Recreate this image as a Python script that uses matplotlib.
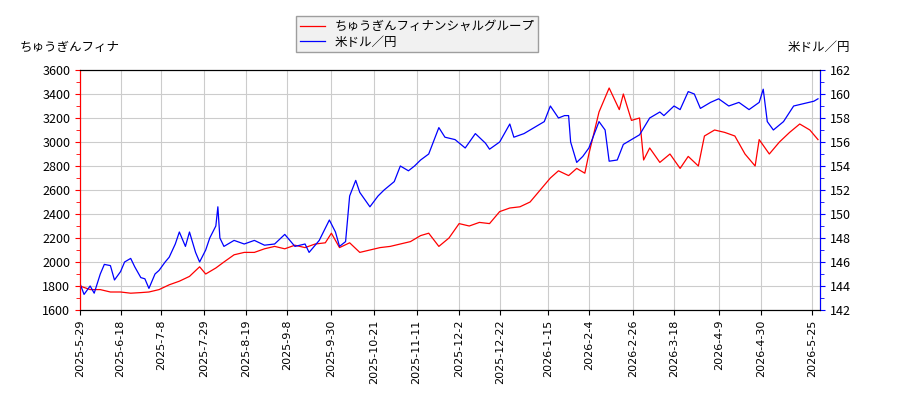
import matplotlib
matplotlib.use("Agg")
import matplotlib.pyplot as plt
import pandas as pd

plt.rcParams['font.family'] = ['Noto Sans CJK JP', 'DejaVu Sans']

start = pd.Timestamp('2025-05-29')
red_days = [0,5,10,15,20,25,30,34,39,44,49,54,59,62,67,71,76,81,86,91,96,101,106,111,116,121,124,128,133,138,
            143,148,153,158,163,168,172,177,182,187,192,197,202,207,212,217,222,227,232,236,241,245,249,251,256,261,266,268,272,276,
            278,281,286,291,296,300,305,308,313,318,323,328,333,335,340,345,350,355,360,364]
red_vals = [1800,1770,1770,1750,1750,1740,1745,1750,1770,1810,1840,1880,1960,1900,1950,2000,2060,2080,2080,2110,
            2130,2110,2140,2120,2150,2160,2240,2120,2160,2080,2100,2120,2130,2150,2170,2220,2240,2130,2200,2320,
            2300,2330,2320,2420,2450,2460,2500,2600,2700,2760,2720,2780,2740,2900,3250,3450,3270,3400,3180,3200,
            2850,2950,2830,2900,2780,2880,2800,3050,3100,3080,3050,2900,2800,3020,2900,3000,3080,3150,3100,3020]
blue_days = [0,2,5,7,10,12,15,17,20,22,25,27,30,32,34,37,39,42,44,47,49,52,54,57,59,62,64,67,68,69,
             71,76,81,86,91,96,101,106,111,113,118,123,126,128,131,133,136,138,143,147,150,155,158,162,165,168,172,177,180,185,
             190,195,200,202,207,212,214,219,224,229,232,236,239,241,242,245,248,251,256,259,261,265,268,273,276,281,286,288,293,296,
             300,303,306,311,315,320,325,330,335,337,339,342,347,352,357,362,364]
blue_vals = [144.2,143.3,144.0,143.4,145.0,145.8,145.7,144.5,145.2,146.0,146.3,145.6,144.7,144.6,143.8,145.0,145.3,146.0,146.4,147.5,
             148.5,147.3,148.5,146.8,146.0,147.0,148.0,149.0,150.6,148.0,147.3,147.8,147.5,147.8,147.4,147.5,148.3,147.3,147.5,146.8,
             147.8,149.5,148.5,147.3,147.7,151.5,152.8,151.8,150.6,151.5,152.0,152.7,154.0,153.6,154.0,154.5,155.0,157.2,156.4,156.2,
             155.5,156.7,155.9,155.4,156.0,157.5,156.4,156.7,157.2,157.7,159.0,158.0,158.2,158.2,156.0,154.3,154.8,155.5,157.7,157.0,
             154.4,154.5,155.8,156.3,156.6,158.0,158.5,158.2,159.0,158.7,160.2,160.0,158.8,159.3,159.6,159.0,159.3,158.7,159.3,160.4,
             157.7,157.0,157.7,159.0,159.2,159.4,159.6]
tick_dates = ['2025-05-29','2025-06-18','2025-07-08','2025-07-29','2025-08-19','2025-09-08','2025-09-30','2025-10-21',
              '2025-11-11','2025-12-02','2025-12-22','2026-01-15','2026-02-04','2026-02-26','2026-03-18','2026-04-09',
              '2026-04-30','2026-05-25']
red_label = 'ちゅうぎんフィナンシャルグループ'
blue_label = '米ドル／円'

red_x = start + pd.to_timedelta(red_days, 'D')
blue_x = start + pd.to_timedelta(blue_days, 'D')
ticks = pd.to_datetime(tick_dates)

fig = plt.figure(figsize=(9, 4), dpi=100)
ax = fig.add_axes([80/900, 90/400, 740/900, 240/400])
ax2 = ax.twinx()
l1, = ax.plot(red_x, red_vals, color='red', lw=0.9, label=red_label)
l2, = ax2.plot(blue_x, blue_vals, color='blue', lw=0.9, label=blue_label)
ax.set_ylim(1600, 3600)
ax.set_yticks(range(1600, 3601, 200))
ax2.set_ylim(142, 162)
ax2.set_yticks(range(142, 163, 2))
ax.set_xlim(start, start + pd.Timedelta(days=365))
ax.set_xticks(ticks)
ax.set_xticklabels([f"{d.year}-{d.month}-{d.day}" for d in ticks], rotation=90, fontsize=8, family='DejaVu Sans')
ax.grid(True, color='#cccccc')
ax.set_axisbelow(True)
ax.tick_params(axis='y', colors='red', labelsize=9)
ax2.tick_params(axis='y', colors='blue', labelsize=9)
for lab in ax.get_yticklabels():
    lab.set_color('black')
for lab in ax2.get_yticklabels():
    lab.set_color('black')
ax.spines['left'].set_color('red')
ax2.spines['left'].set_color('red')
ax2.spines['right'].set_color('blue')
ax.set_yticks(range(1700, 3600, 200), minor=True)
ax2.set_yticks(range(143, 162, 2), minor=True)
ax.tick_params(axis='y', which='minor', colors='red', length=3)
ax2.tick_params(axis='y', which='minor', colors='blue', length=3)
fig.text(20/900, 1-47/400, 'ちゅうぎんフィナ', fontsize=9, va='center')
fig.text(850/900, 1-47/400, '米ドル／円', fontsize=9, va='center', ha='right')
fig.legend(handles=[l1, l2], loc='upper center', bbox_to_anchor=(417/900, 1-10/400),
           fontsize=9, fancybox=False, edgecolor='#888888', facecolor='#eeeeee',
           borderpad=0.3, labelspacing=0.2, handlelength=2)
fig.savefig('out.png', dpi=100)
